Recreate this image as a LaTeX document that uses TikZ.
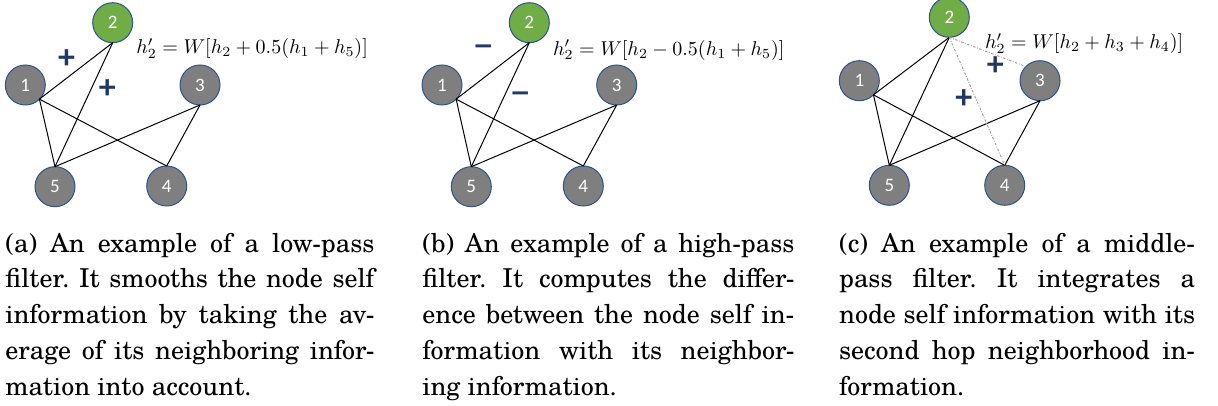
\documentclass[tikz,border=0pt]{standalone}
\usepackage{fontspec}
\usepackage{graphicx}
\newfontfamily\lblfont{Carlito}
\newfontfamily\capfam{texgyreschola}[Extension=.otf, UprightFont=*-regular, BoldFont=*-bold]
\definecolor{ngray}{HTML}{7F7F7F}
\definecolor{ngreen}{HTML}{70AD47}
\definecolor{outl}{HTML}{2F528F}
\definecolor{navy}{HTML}{203864}
\definecolor{dgray}{HTML}{9A9A9A}
\frenchspacing
\begin{document}
\begin{tikzpicture}[x=0.5pt,y=-0.5pt,
  gnode/.style={circle, draw=outl, line width=0.5pt, fill=ngray, minimum size=20pt,
    inner sep=0pt, outer sep=0pt, text=white, font=\lblfont\fontsize{9.5}{10}\selectfont},
  hnode/.style={gnode, fill=ngreen},
  edge/.style={line width=0.5pt, black},
  dedge/.style={line width=0.45pt, dgray, dash pattern=on 1.2pt off 0.8pt on 0.4pt off 0.8pt},
  sign/.style={text=navy, font=\lblfont\bfseries\fontsize{17}{18}\selectfont, inner sep=0pt},
  msign/.style={text=navy, font=\lblfont\bfseries\fontsize{16}{18}\selectfont, inner sep=0pt},
  formula/.style={anchor=west, inner sep=0pt, font=\fontsize{10}{12}\selectfont},
  capln/.style={anchor=base west, inner sep=0pt, font=\capfam\fontsize{13}{16}\selectfont}]
\useasboundingbox (0,0) rectangle (1218,406);

% ---------- panel (a)
\node[gnode] (a1) at (25.3,85) {1};
\node[hnode] (a2) at (112.7,22.7) {2};
\node[gnode] (a3) at (200,85) {3};
\node[gnode] (a4) at (166.7,186) {4};
\node[gnode] (a5) at (55,186.7) {5};
\draw[edge] (a2.south) -- (a1.south east);
\draw[edge] (a2.south) -- (a5.north);
\draw[edge] (a1.south east) -- (a5.north);
\draw[edge] (a1.south east) -- (a4.north);
\draw[edge] (a3.south) -- (a5.north);
\draw[edge] (a3.south) -- (a4.north);
\node[sign] (ap1) at (66.7,59) {+};
\node[sign] (ap2) at (107.3,89.3) {+};
\node[formula] (af) at (136,48.3) {$h_2' = W[h_2 + 0.5(h_1 + h_5)]$};

% ---------- panel (b)
\node[gnode] (b1) at (442,85) {1};
\node[hnode] (b2) at (529.3,22.7) {2};
\node[gnode] (b3) at (616.7,85) {3};
\node[gnode] (b4) at (583.3,186) {4};
\node[gnode] (b5) at (471.3,186.7) {5};
\draw[edge] (b2.south) -- (b1.south east);
\draw[edge] (b2.south) -- (b5.north);
\draw[edge] (b1.south east) -- (b5.north);
\draw[edge] (b1.south east) -- (b4.north);
\draw[edge] (b3.south) -- (b5.north);
\draw[edge] (b3.south) -- (b4.north);
\node[msign] (bm1) at (483.3,50.7) {\scalebox{1.25}[1]{−}};
\node[msign] (bm2) at (520.3,97.5) {\scalebox{1.25}[1]{−}};
\node[formula] (bf) at (552.7,50) {$h_2' = W[h_2 - 0.5(h_1 + h_5)]$};

% ---------- panel (c)
\node[gnode] (c1) at (859.3,80.7) {1};
\node[hnode] (c2) at (949.3,17.3) {2};
\node[gnode] (c3) at (1040,80.7) {3};
\node[gnode] (c4) at (1004.7,185.3) {4};
\node[gnode] (c5) at (889.3,185.3) {5};
\draw[edge] (c2.south) -- (c1.south east);
\draw[edge] (c2.south) -- (c5.north);
\draw[edge] (c1.south east) -- (c5.north);
\draw[edge] (c1.south east) -- (c4.north);
\draw[edge] (c3.south) -- (c5.north);
\draw[edge] (c3.south) -- (c4.north);
\draw[dedge] (c2.south) -- (c3.north west);
\draw[dedge] (c2.south) -- (c4.north);
\node[sign] (cp1) at (995.3,66.5) {+};
\node[sign] (cp2) at (963.9,98.8) {+};
\node[formula] (cf) at (984.7,43.3) {$h_2' = W[h_2 + h_3 + h_4)]$};

% ---------- captions
\node[capln] (ca1) at (5,252) {\makebox[184.5pt][s]{(a) An example of a low-pass}};
\node[capln] (ca2) at (5,287.8) {\makebox[184.5pt][s]{filter. It smooths the node self}};
\node[capln] (ca3) at (5,323.6) {\makebox[184.5pt][s]{information by taking the av-}};
\node[capln] (ca4) at (5,359.4) {\makebox[184.5pt][s]{erage of its neighboring infor-}};
\node[capln] (ca5) at (5,395.2) {mation into account.};

\node[capln] (cb1) at (422,252) {\makebox[186pt][s]{(b) An example of a high-pass}};
\node[capln] (cb2) at (422,287.8) {\makebox[186pt][s]{filter. It computes the differ-}};
\node[capln] (cb3) at (422,323.6) {\makebox[186pt][s]{ence between the node self in-}};
\node[capln] (cb4) at (422,359.4) {\makebox[186pt][s]{formation with its neighbor-}};
\node[capln] (cb5) at (422,395.2) {ing information.};

\node[capln] (cc1) at (838.7,252) {\makebox[178pt][s]{(c) An example of a middle-}};
\node[capln] (cc2) at (838.7,287.8) {\makebox[178pt][s]{pass filter. It integrates a}};
\node[capln] (cc3) at (838.7,323.6) {\makebox[178pt][s]{node self information with its}};
\node[capln] (cc4) at (838.7,359.4) {\makebox[178pt][s]{second hop neighborhood in-}};
\node[capln] (cc5) at (838.7,395.2) {formation.};
\end{tikzpicture}
\end{document}
